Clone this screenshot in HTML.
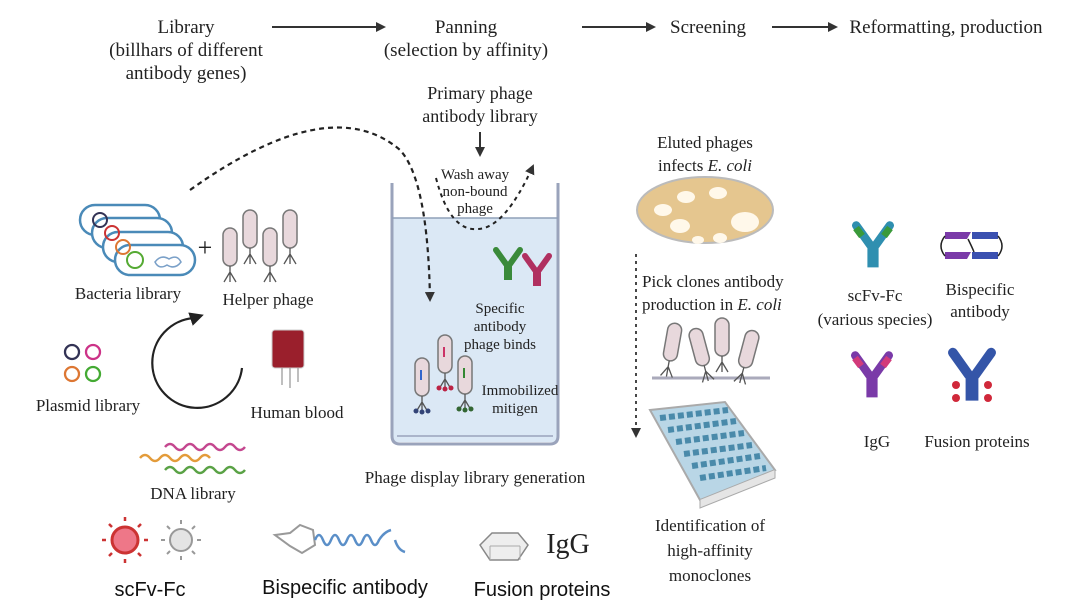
<!DOCTYPE html>
<html><head><meta charset="utf-8"><style>
html,body{margin:0;padding:0;background:#fff;}
svg{display:block;}
.s{font-family:"Liberation Serif",serif;fill:#222;}
.a{font-family:"Liberation Sans",sans-serif;fill:#111;}
</style></head><body>
<svg width="1080" height="607" viewBox="0 0 1080 607" xmlns="http://www.w3.org/2000/svg">
<defs>
<marker id="ar" markerWidth="10" markerHeight="10" refX="8" refY="5" orient="auto" markerUnits="userSpaceOnUse"><path d="M0,0 L10,5 L0,10 Z" fill="#333"/></marker>
<marker id="ar2" markerWidth="14" markerHeight="14" refX="10" refY="7" orient="auto" markerUnits="userSpaceOnUse"><path d="M0,0 L14,7 L0,14 Z" fill="#222"/></marker>
<g id="ph"><rect x="-7" y="-22" width="14" height="38" rx="7" fill="#e8d8dc" stroke="#777" stroke-width="1.5"/><path d="M0,16 L0,22 M0,22 L-6,32 M0,22 L6,32 M0,22 L0,32" stroke="#555" stroke-width="1.3" fill="none"/></g>
<g id="ab"><path d="M-12,-14 L-2,0 M12,-14 L2,0" stroke-width="6" fill="none" stroke-linecap="round"/><path d="M-2,0 L-2,16 M2,0 L2,16" stroke-width="4" fill="none"/></g>
</defs>
<rect width="1080" height="607" fill="#fff"/>

<g class="s" font-size="19" text-anchor="middle">
<text x="186" y="33">Library</text>
<text x="186" y="56">(billhars of different</text>
<text x="186" y="79">antibody genes)</text>
<text x="466" y="33">Panning</text>
<text x="466" y="56">(selection by affinity)</text>
<text x="708" y="33">Screening</text>
<text x="946" y="33">Reformatting, production</text>
<text x="480" y="99" font-size="18">Primary phage</text>
<text x="480" y="122" font-size="18">antibody library</text>
</g>
<g stroke="#333" stroke-width="2" marker-end="url(#ar)">
<line x1="272" y1="27" x2="384" y2="27"/>
<line x1="582" y1="27" x2="654" y2="27"/>
<line x1="772" y1="27" x2="836" y2="27"/>
<line x1="480" y1="132" x2="480" y2="155"/>
</g>

<rect x="392" y="218" width="166" height="224" fill="#dbe8f5"/>
<path d="M392,183 L392,436 Q392,444 400,444 L550,444 Q558,444 558,436 L558,183" fill="none" stroke="#9aa3bb" stroke-width="3"/>
<line x1="392" y1="218" x2="558" y2="218" stroke="#8fa0b8" stroke-width="1.5"/>
<line x1="397" y1="436" x2="553" y2="436" stroke="#9aa3bb" stroke-width="1.5"/>
<g class="s" font-size="15" text-anchor="middle">
<text x="475" y="179">Wash away</text>
<text x="475" y="196">non-bound</text>
<text x="475" y="213">phage</text>
<text x="500" y="313">Specific</text>
<text x="500" y="331">antibody</text>
<text x="500" y="349">phage binds</text>
<text x="520" y="395">Immobilized</text>
<text x="515" y="413">mitigen</text>
<text x="475" y="483" font-size="17">Phage display library generation</text>
</g>
<path d="M190,190 Q330,90 400,150 Q428,180 430,300" fill="none" stroke="#222" stroke-width="2.2" stroke-dasharray="5,4" marker-end="url(#ar)"/>
<path d="M436,178 Q450,232 478,229 Q505,228 533,166" fill="none" stroke="#222" stroke-width="2" stroke-dasharray="4,4" marker-end="url(#ar)"/>
<use href="#ab" x="508" y="264" stroke="#3a8a3a"/>
<use href="#ab" x="537" y="270" stroke="#b03060"/>
<use href="#ph" x="422" y="380"/>
<use href="#ph" x="445" y="357"/>
<use href="#ph" x="465" y="378"/>
<rect x="420" y="370" width="2" height="10" fill="#36c"/><rect x="443" y="347" width="2" height="10" fill="#c36"/><rect x="463" y="368" width="2" height="10" fill="#383"/>
<g fill="#347"><circle cx="416" cy="411" r="2.5"/><circle cx="422" cy="412" r="2.5"/><circle cx="428" cy="411" r="2.5"/></g>
<g fill="#b24"><circle cx="439" cy="388" r="2.5"/><circle cx="445" cy="389" r="2.5"/><circle cx="451" cy="388" r="2.5"/></g>
<g fill="#363"><circle cx="459" cy="409" r="2.5"/><circle cx="465" cy="410" r="2.5"/><circle cx="471" cy="409" r="2.5"/></g>

<g fill="#fff" stroke="#4a8ab8" stroke-width="2.5">
<rect x="80" y="205" width="80" height="30" rx="15"/>
<rect x="92" y="218" width="80" height="30" rx="15"/>
<rect x="103" y="232" width="80" height="30" rx="15"/>
<rect x="115" y="245" width="80" height="30" rx="15"/>
</g>
<circle cx="100" cy="220" r="7" fill="none" stroke="#335" stroke-width="2"/>
<circle cx="112" cy="233" r="7" fill="none" stroke="#c33" stroke-width="2"/>
<circle cx="123" cy="247" r="7" fill="none" stroke="#d73" stroke-width="2"/>
<circle cx="135" cy="260" r="8" fill="none" stroke="#5a3" stroke-width="2"/>
<path d="M155,262 q6,-8 14,-3 q8,-5 12,3 q-6,8 -14,3 q-8,5 -12,-3z" fill="none" stroke="#7aa0c8" stroke-width="1.5"/>
<text class="s" x="205" y="256" font-size="26" text-anchor="middle">+</text>
<use href="#ph" x="230" y="250"/><use href="#ph" x="250" y="232"/><use href="#ph" x="270" y="250"/><use href="#ph" x="290" y="232"/>
<g class="s" font-size="17" text-anchor="middle">
<text x="128" y="299">Bacteria library</text>
<text x="268" y="305">Helper phage</text>
<text x="88" y="411">Plasmid library</text>
<text x="297" y="418">Human blood</text>
<text x="193" y="499">DNA library</text>
</g>
<path d="M242,368 A45,45 0 1 1 194,318 L200,316" fill="none" stroke="#222" stroke-width="2.2" marker-end="url(#ar2)"/>
<g fill="none" stroke-width="2.3">
<circle cx="72" cy="352" r="7" stroke="#335"/><circle cx="93" cy="352" r="7" stroke="#c38"/>
<circle cx="72" cy="374" r="7" stroke="#d73"/><circle cx="93" cy="374" r="7" stroke="#4a3"/>
</g>
<rect x="272" y="330" width="32" height="38" rx="3" fill="#9a1f2c" stroke="#ccc"/>
<path d="M282,368 L282,385 M290,368 L290,388 M298,368 L298,382" stroke="#aaa" stroke-width="1.5"/>
<g fill="none" stroke-width="2.5">
<path d="M165,447 q5,-6 10,0 t10,0 t10,0 t10,0 t10,0 t10,0 t10,0 t10,0" stroke="#c4478f"/>
<path d="M140,458 q5,-6 10,0 t10,0 t10,0 t10,0 t10,0 t10,0 t10,0" stroke="#e39b3a"/>
<path d="M165,470 q5,-6 10,0 t10,0 t10,0 t10,0 t10,0 t10,0 t10,0 t10,0" stroke="#5aa245"/>
</g>

<circle cx="125" cy="540" r="13" fill="#e78" stroke="#c33" stroke-width="3"/>
<g stroke="#c33" stroke-width="2.5"><path d="M125,521 v-4 M125,559 v4 M106,540 h-4 M144,540 h4 M112,527 l-3,-3 M138,527 l3,-3 M112,553 l-3,3 M138,553 l3,3"/></g>
<circle cx="181" cy="540" r="11" fill="#e4e4e4" stroke="#999" stroke-width="2"/>
<g stroke="#999" stroke-width="2"><path d="M181,524 v-4 M181,556 v4 M165,540 h-4 M197,540 h4 M170,529 l-3,-3 M192,529 l3,-3 M170,551 l-3,3 M192,551 l3,3"/></g>
<text class="a" x="150" y="596" font-size="20" text-anchor="middle">scFv-Fc</text>
<path d="M275,535 L290,533 L300,525 L313,530 L315,545 L302,553 L290,546 Z" fill="none" stroke="#999" stroke-width="2"/>
<path d="M315,540 q4,-10 8,0 q4,10 8,0 q4,-10 8,0 q4,10 8,0 q4,-10 8,0 q4,10 8,0 q4,-10 8,0 q4,10 8,0 q5,-8 12,-10 M395,540 q3,10 10,12" fill="none" stroke="#5b8fc8" stroke-width="2.5"/>
<text class="a" x="345" y="594" font-size="20" text-anchor="middle">Bispecific antibody</text>
<path d="M480,545 L492,533 L518,533 L528,545 L518,560 L490,560 Z" fill="#eee" stroke="#888" stroke-width="1.5"/>
<path d="M490,546 L520,546 M490,546 L490,560 M520,546 L520,560" stroke="#aaa" fill="none"/>
<text class="s" x="568" y="553" font-size="28" text-anchor="middle">IgG</text>
<text class="a" x="542" y="596" font-size="20" text-anchor="middle">Fusion proteins</text>

<g class="s" font-size="17">
<text x="705" y="148" text-anchor="middle">Eluted phages</text>
<text x="705" y="171" text-anchor="middle">infects <tspan font-style="italic">E. coli</tspan></text>
<text x="642" y="287">Pick clones antibody</text>
<text x="642" y="310">production in <tspan font-style="italic">E. coli</tspan></text>
<text x="710" y="531" text-anchor="middle">Identification of</text>
<text x="710" y="556" text-anchor="middle">high-affinity</text>
<text x="710" y="581" text-anchor="middle">monoclones</text>
</g>
<ellipse cx="705" cy="210" rx="68" ry="33" fill="#e5c68f" stroke="#bbb" stroke-width="2"/>
<g fill="#fff8ea"><ellipse cx="686" cy="197" rx="9" ry="6"/><ellipse cx="718" cy="193" rx="9" ry="6"/><ellipse cx="663" cy="210" rx="9" ry="6"/><ellipse cx="680" cy="226" rx="10" ry="7"/><ellipse cx="745" cy="222" rx="14" ry="10"/><ellipse cx="720" cy="238" rx="7" ry="5"/><ellipse cx="698" cy="240" rx="6" ry="4"/></g>
<line x1="636" y1="254" x2="636" y2="436" stroke="#333" stroke-width="1.8" stroke-dasharray="3,4" marker-end="url(#ar)"/>
<line x1="652" y1="378" x2="770" y2="378" stroke="#aab" stroke-width="3"/>
<use href="#ph" x="672" y="345" transform="rotate(10 672 345)"/><use href="#ph" x="700" y="350" transform="rotate(-15 700 350)"/><use href="#ph" x="722" y="340"/><use href="#ph" x="748" y="352" transform="rotate(15 748 352)"/>
<path d="M650,410 L725,402 L775,470 L700,500 Z" fill="#b9d6e6" stroke="#aaa" stroke-width="2"/>
<path d="M700,500 L700,508 L775,478 L775,470" fill="#e5e5e5" stroke="#aaa"/>
<g stroke="#4a8aaa" stroke-width="6" stroke-dasharray="6,3"><path d="M660,418 L728,410 M668,430 L736,421 M676,442 L744,433 M684,454 L752,445 M692,466 L760,456 M700,478 L766,468"/></g>

<g transform="translate(873,245)"><use href="#ab" stroke="#2f8fb0" transform="scale(1.4)"/></g>
<path d="M856,228 l6,8 M890,228 l-6,8" stroke="#3a9a3a" stroke-width="7"/>
<g fill="#7a3aa8"><path d="M945,232 h26 l-4,7 h-22z M945,252 h26 l-4,7 h-22z"/></g>
<g fill="#3a50b0"><path d="M972,232 h26 v7 h-26z M972,252 h26 v7 h-26z"/></g>
<path d="M945,236 q-8,10 0,20 M998,236 q8,10 0,20 M968,239 q4,8 6,13" stroke="#222" fill="none" stroke-width="1.5"/>
<g transform="translate(872,375)"><use href="#ab" stroke="#7a3aa8" transform="scale(1.4)"/></g>
<path d="M855,358 l6,8 M889,358 l-6,8" stroke="#d23a7a" stroke-width="7"/>
<g transform="translate(972,375)"><use href="#ab" stroke="#3455a8" transform="scale(1.6)"/></g>
<g fill="#d0283a"><circle cx="956" cy="385" r="4"/><circle cx="988" cy="385" r="4"/><circle cx="956" cy="398" r="4"/><circle cx="988" cy="398" r="4"/></g>
<g class="s" font-size="17" text-anchor="middle">
<text x="875" y="301">scFv-Fc</text>
<text x="875" y="325">(various species)</text>
<text x="980" y="295">Bispecific</text>
<text x="980" y="317">antibody</text>
<text x="877" y="447">IgG</text>
<text x="977" y="447">Fusion proteins</text>
</g>
</svg>
</body></html>
